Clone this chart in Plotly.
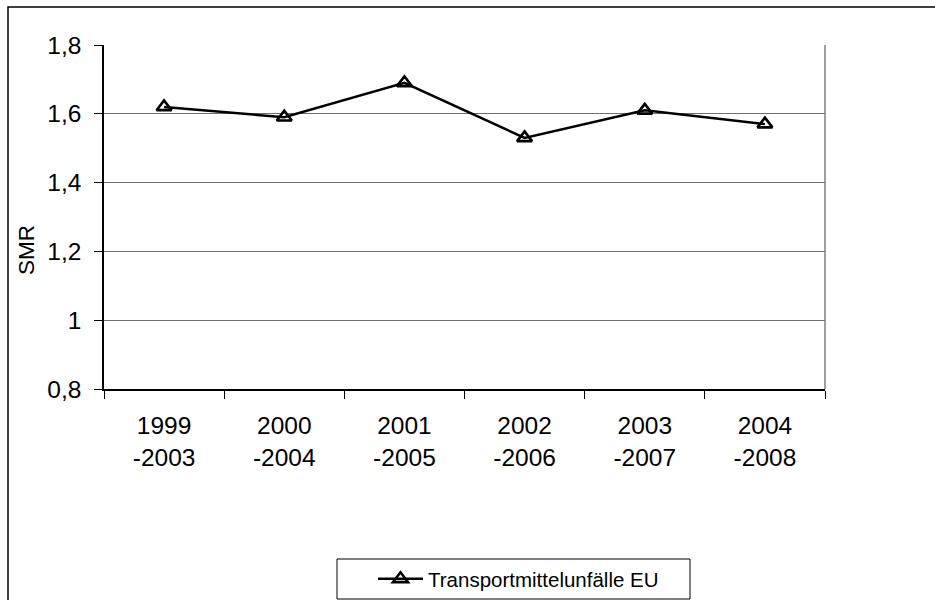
import plotly.graph_objects as go

categories = ["1999<br>-2003", "2000<br>-2004", "2001<br>-2005", "2002<br>-2006", "2003<br>-2007", "2004<br>-2008"]
smr_values = [1.62, 1.59, 1.69, 1.53, 1.61, 1.57]
series_name = "Transportmittelunfälle EU"
y_tick_vals = [0.8, 1.0, 1.2, 1.4, 1.6, 1.8]
y_tick_text = ["0,8", "1", "1,2", "1,4", "1,6", "1,8"]

W, H = 935, 600
ML, MR, MT, MB = 104, 110, 45, 211
PW = W - ML - MR
PH = H - MT - MB


def px(x):
    return (x - ML) / PW


def py(y):
    return (H - MB - y) / PH


FONT = "Liberation Sans, Arial, sans-serif"

fig = go.Figure()
fig.add_trace(go.Scatter(
    x=categories, y=smr_values, name=series_name,
    mode="lines+markers",
    line=dict(color="black", width=2.5),
    marker=dict(symbol="triangle-up-open", size=13, color="black",
                line=dict(color="black", width=2.6)),
))

shapes = [
    # outer chart frame
    dict(type="rect", xref="paper", yref="paper", x0=px(8), x1=px(960),
         y0=py(7), y1=py(640), line=dict(color="black", width=1.5), layer="below"),
    # plot area right border
    dict(type="line", xref="paper", yref="paper", x0=1, x1=1, y0=0, y1=1,
         line=dict(color="#808080", width=1.5), layer="below"),
    # legend box
    dict(type="rect", xref="paper", yref="paper", x0=px(337), x1=px(690),
         y0=py(559), y1=py(599), line=dict(color="black", width=1), layer="below"),
]

fig.update_layout(
    width=W, height=H,
    margin=dict(l=ML, r=MR, t=MT, b=MB, pad=0, autoexpand=False),
    paper_bgcolor="white", plot_bgcolor="white",
    font=dict(family=FONT, color="black", size=24.5),
    showlegend=True,
    legend=dict(xref="container", yref="container",
                x=373 / W, y=1 - 579 / H, xanchor="left", yanchor="middle",
                bgcolor="rgba(0,0,0,0)", borderwidth=0, itemwidth=45,
                font=dict(size=20.5, family=FONT)),
    shapes=shapes,
    annotations=[dict(text="SMR", xref="paper", yref="paper", x=px(27), y=py(250),
                      textangle=-90, showarrow=False, font=dict(size=22.5, family=FONT),
                      xanchor="center", yanchor="middle")],
)

fig.update_xaxes(
    type="category", range=[-0.5, 5.5], automargin=False,
    showline=True, linecolor="black", linewidth=1.5,
    ticks="outside", ticklen=8, tickwidth=1, tickcolor="black",
    tickson="boundaries", showgrid=False, zeroline=False,
    ticklabelstandoff=14,
    tickfont=dict(size=24.5, family=FONT),
)
fig.update_yaxes(
    range=[0.8, 1.8], tickvals=y_tick_vals, ticktext=y_tick_text, automargin=False,
    showline=True, linecolor="black", linewidth=1.5,
    ticks="outside", ticklen=8, tickwidth=1, tickcolor="black",
    showgrid=True, gridcolor="#707070", gridwidth=1, zeroline=False,
    ticklabelstandoff=8,
    tickfont=dict(size=24.5, family=FONT),
)

fig.write_html("out.html", config={"displayModeBar": False},
               post_script="document.body.style.margin='0';")
